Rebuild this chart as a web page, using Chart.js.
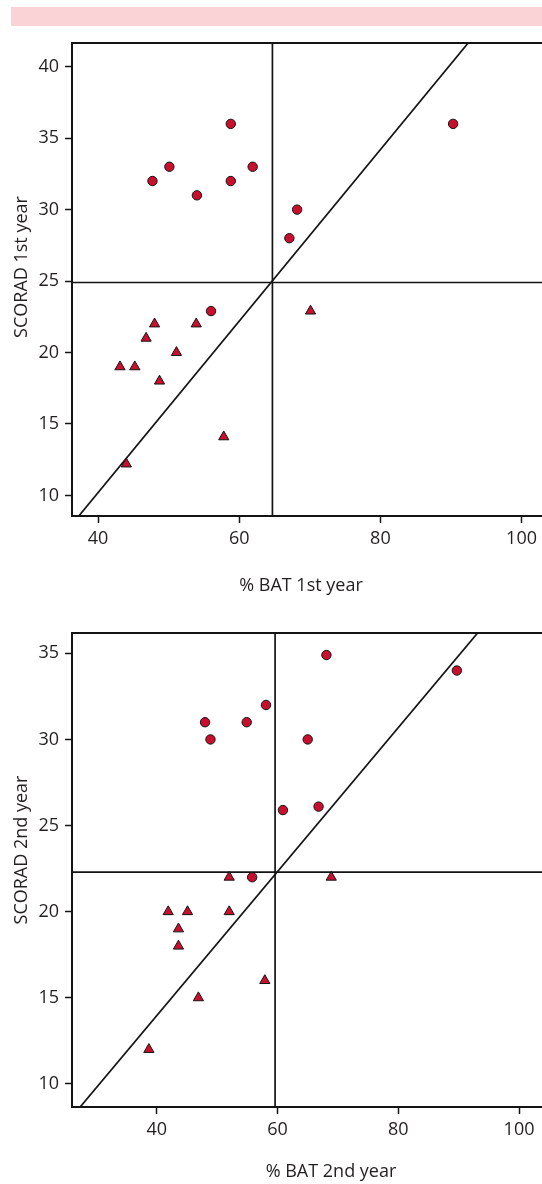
<!DOCTYPE html>
<html>
<head>
<meta charset="utf-8">
<style>
  html, body { margin: 0; padding: 0; background: #fff; overflow: hidden; }
  body { width: 542px; height: 1184px; position: relative; }
  .band { position: absolute; left: 11px; top: 7px; width: 531px; height: 19px; background: #f9d3d5; }
  canvas { position: absolute; left: 0; }
  #c1 { top: 0; }
  #c2 { top: 600px; }
</style>
</head>
<body>
<div class="band"></div>
<canvas id="c1" width="542" height="600"></canvas>
<canvas id="c2" width="542" height="584"></canvas>

<script src="https://cdn.jsdelivr.net/npm/chart.js"></script>
<script>
// tick labels
const xTicks = [40, 60, 80, 100];
const yTicks1 = [10, 15, 20, 25, 30, 35, 40];
const yTicks2 = [10, 15, 20, 25, 30, 35];

// 1st year: circles and triangles (% BAT, SCORAD)
const batCirc1 = [47.7, 50.1, 54.0, 58.8, 58.8, 61.9, 68.2, 67.1, 90.3, 56.0];
const scoCirc1 = [32, 33, 31, 36, 32, 33, 30, 28, 36, 22.9];
const batTri1 = [48.0, 53.9, 46.8, 51.1, 43.1, 45.2, 48.7, 57.8, 44.0, 70.1];
const scoTri1 = [22, 22, 21, 20, 19, 19, 18, 14.1, 12.2, 22.9];
const cutBat1 = 64.7, cutSco1 = 24.9;
const fitBat1 = [30, 100];
const fitSco1 = [4.2, 46.2];

// 2nd year
const batCirc2 = [48.0, 48.9, 54.9, 58.1, 68.1, 89.7, 65.0, 60.9, 66.8, 55.8];
const scoCirc2 = [31, 30, 31, 32, 34.9, 34, 30, 25.9, 26.1, 22];
const batTri2 = [52.0, 68.9, 41.9, 45.1, 52.0, 43.6, 43.6, 57.9, 46.9, 38.7];
const scoTri2 = [22, 22, 20, 20, 20, 19, 18, 16, 15, 12];
const cutBat2 = 59.6, cutSco2 = 22.3;
const fitBat2 = [20, 100];
const fitSco2 = [5.6, 39.05];

const INK = '#141414';
const RED = '#c8102e';
const tickFont = { family: 'Open Sans', size: 18 };

const refLines = {
  id: 'refLines',
  beforeDatasetsDraw(chart, args, opts) {
    const { ctx, chartArea: a, scales: { x, y } } = chart;
    const px = x.getPixelForValue(opts.x);
    const py = y.getPixelForValue(opts.y);
    ctx.save();
    ctx.strokeStyle = INK;
    ctx.lineWidth = 1.7;
    ctx.beginPath();
    ctx.moveTo(px, a.top); ctx.lineTo(px, a.bottom);
    ctx.moveTo(a.left, py); ctx.lineTo(a.right, py);
    ctx.stroke();
    ctx.restore();
  },
  afterDraw(chart, args, opts) {
    const ctx = chart.ctx;
    ctx.save();
    ctx.fillStyle = '#231f20';
    ctx.font = '18px "Open Sans"';
    ctx.textAlign = 'center';
    ctx.textBaseline = 'alphabetic';
    ctx.fillText(opts.xTitle, opts.xTitleX, opts.xTitleY);
    ctx.translate(opts.yTitleX, opts.yTitleY);
    ctx.rotate(-Math.PI / 2);
    ctx.fillText(opts.yTitle, 0, 0);
    ctx.restore();
  }
};

function pts(xs, ys) {
  return xs.map((v, i) => ({ x: v, y: ys[i] }));
}

function noPad(s) {
  s.paddingLeft = 0; s.paddingRight = 0; s.paddingTop = 0; s.paddingBottom = 0;
}

function makeChart(id, d) {
  new Chart(document.getElementById(id), {
    type: 'scatter',
    data: {
      datasets: [
        { data: pts(d.batCirc, d.scoCirc), pointStyle: 'circle', pointRadius: 4.7,
          backgroundColor: RED, borderColor: INK, borderWidth: 1 },
        { data: pts(d.batTri, d.scoTri), pointStyle: 'triangle', pointRadius: 5.9,
          backgroundColor: RED, borderColor: INK, borderWidth: 1 },
        { data: pts(d.fitBat, d.fitSco), showLine: true, pointRadius: 0,
          borderColor: INK, borderWidth: 1.7, fill: false }
      ]
    },
    options: {
      responsive: false,
      animation: false,
      layout: { padding: 0, autoPadding: false },
      plugins: {
        legend: { display: false },
        tooltip: { enabled: false },
        refLines: {
          x: d.cutBat, y: d.cutSco,
          xTitle: d.xTitle, xTitleX: d.xTitleX, xTitleY: d.xTitleY,
          yTitle: d.yTitle, yTitleX: 27, yTitleY: d.yTitleY
        }
      },
      scales: {
        x: {
          type: 'linear', position: 'bottom', min: d.xMin, max: d.xMax,
          afterBuildTicks: s => { s.ticks = xTicks.map(v => ({ value: v })); },
          afterFit: s => { s.height = d.bottomH; noPad(s); },
          grid: { display: true, drawOnChartArea: false, drawTicks: true, tickLength: 7, tickColor: INK, tickWidth: 1.5 },
          border: { display: true, color: INK, width: 2 },
          ticks: { font: tickFont, color: '#231f20', padding: 5, maxRotation: 0, autoSkip: false }
        },
        x2: {
          type: 'linear', position: 'top', min: d.xMin, max: d.xMax,
          afterFit: s => { s.height = d.topH; noPad(s); },
          grid: { display: false },
          border: { display: true, color: INK, width: 2 },
          ticks: { display: false }
        },
        y: {
          type: 'linear', position: 'left', min: d.yMin, max: d.yMax,
          afterBuildTicks: s => { s.ticks = d.yTicks.map(v => ({ value: v })); },
          afterFit: s => { s.width = 72; noPad(s); },
          grid: { display: true, drawOnChartArea: false, drawTicks: true, tickLength: 7, tickColor: INK, tickWidth: 1.5 },
          border: { display: true, color: INK, width: 2 },
          ticks: { font: tickFont, color: '#231f20', padding: 6, autoSkip: false }
        }
      }
    },
    plugins: [refLines]
  });
}

makeChart('c1', {
  batCirc: batCirc1, scoCirc: scoCirc1, batTri: batTri1, scoTri: scoTri1,
  fitBat: fitBat1, fitSco: fitSco1, cutBat: cutBat1, cutSco: cutSco1,
  yTicks: yTicks1, xMin: 36.3, xMax: 102.9, yMin: 8.56, yMax: 41.66,
  topH: 43, bottomH: 84,
  xTitle: '% BAT 1st year', xTitleX: 301, xTitleY: 591,
  yTitle: 'SCORAD 1st year', yTitleY: 267
});

makeChart('c2', {
  batCirc: batCirc2, scoCirc: scoCirc2, batTri: batTri2, scoTri: scoTri2,
  fitBat: fitBat2, fitSco: fitSco2, cutBat: cutBat2, cutSco: cutSco2,
  yTicks: yTicks2, xMin: 25.97, xMax: 103.8, yMin: 8.66, yMax: 36.18,
  topH: 33, bottomH: 77,
  xTitle: '% BAT 2nd year', xTitleX: 331, xTitleY: 577,
  yTitle: 'SCORAD 2nd year', yTitleY: 250
});
</script>
</body>
</html>
